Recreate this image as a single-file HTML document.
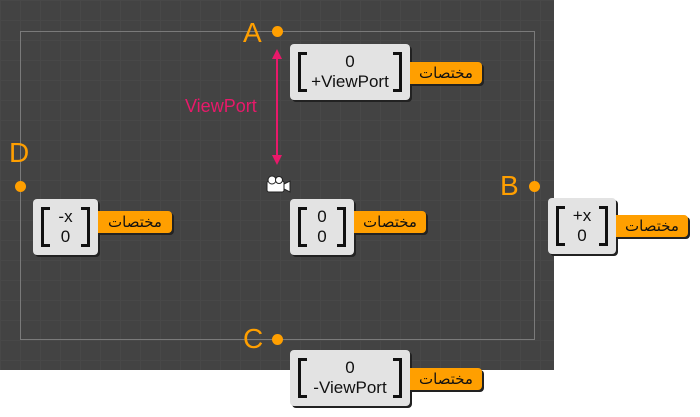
<!DOCTYPE html>
<html><head><meta charset="utf-8"><style>
body{margin:0;width:700px;height:417px;background:#fff;position:relative;overflow:hidden;font-family:"Liberation Sans","DejaVu Sans",sans-serif}
.bg{position:absolute;left:0;top:0;width:554px;height:370px;background-color:#434343;
background-image:linear-gradient(#484848 1px,transparent 1px),linear-gradient(90deg,#484848 1px,transparent 1px);background-size:20px 20px}
.rect{position:absolute;left:20px;top:31px;width:513px;height:307px;border:1px solid #7a7a7a}
.dot{position:absolute;width:11px;height:11px;border-radius:50%;background:#ff9f00}
.lbl{position:absolute;color:#ff9f00;font-size:28px;line-height:28px}
.box{position:absolute;background:#e3e3e3;border-radius:4px;box-shadow:2px 2px 0 #222;height:56px}
.box .br{position:absolute;top:8px;bottom:8px;width:6px;border:3px solid #111}
.box .l{left:8px;border-right:none}.box .r{right:8px;border-left:none}
.box .t{position:absolute;left:0;right:0;top:8px;text-align:center;font-size:17px;line-height:20px;color:#111}
.tag{position:absolute;height:22px;background:#ff9f00;border-radius:0 4px 4px 0;box-shadow:2px 2px 0 #222;font-family:"DejaVu Sans",sans-serif;font-size:15px;line-height:22px;text-align:center;color:#111}
</style></head><body>
<div class="bg"></div>
<div class="rect"></div>
<div class="dot" style="left:272px;top:26px"></div>
<div class="dot" style="left:529px;top:181px"></div>
<div class="dot" style="left:272px;top:334px"></div>
<div class="dot" style="left:15px;top:181px"></div>
<div class="lbl" style="left:243px;top:19px">A</div>
<div class="lbl" style="left:500px;top:172px">B</div>
<div class="lbl" style="left:243px;top:325px">C</div>
<div class="lbl" style="left:9px;top:139px">D</div>
<svg style="position:absolute;left:0;top:0" width="700" height="417">
<line x1="277" y1="52" x2="277" y2="162" stroke="#e8196a" stroke-width="2"/>
<polygon points="277,49 272,59 282,59" fill="#e8196a"/>
<polygon points="277,165 272,155 282,155" fill="#e8196a"/>
<g fill="#fff" stroke="#222" stroke-width="1">
<rect x="267" y="181" width="17" height="11" rx="2"/>
<polygon points="284,184 290,181 290,192 284,189"/>
<circle cx="272" cy="180" r="4"/><circle cx="279" cy="180" r="3.5"/>
</g>
</svg>
<div style="position:absolute;left:185px;top:96px;color:#e8196a;font-size:18px">ViewPort</div>

<div class="box" style="left:290px;top:44px;width:120px"><div class="br l"></div><div class="br r"></div><div class="t">0<br>+ViewPort</div></div>
<div class="tag" style="left:410px;top:62px;width:72px">مختصات</div>

<div class="box" style="left:290px;top:199px;width:64px"><div class="br l"></div><div class="br r"></div><div class="t">0<br>0</div></div>
<div class="tag" style="left:354px;top:211px;width:72px">مختصات</div>

<div class="box" style="left:33px;top:199px;width:65px"><div class="br l"></div><div class="br r"></div><div class="t">-x<br>0</div></div>
<div class="tag" style="left:98px;top:211px;width:74px">مختصات</div>

<div class="box" style="left:548px;top:198px;width:68px"><div class="br l"></div><div class="br r"></div><div class="t">+x<br>0</div></div>
<div class="tag" style="left:616px;top:215px;width:72px">مختصات</div>

<div class="box" style="left:290px;top:350px;width:120px"><div class="br l"></div><div class="br r"></div><div class="t">0<br>-ViewPort</div></div>
<div class="tag" style="left:410px;top:368px;width:72px">مختصات</div>
</body></html>
